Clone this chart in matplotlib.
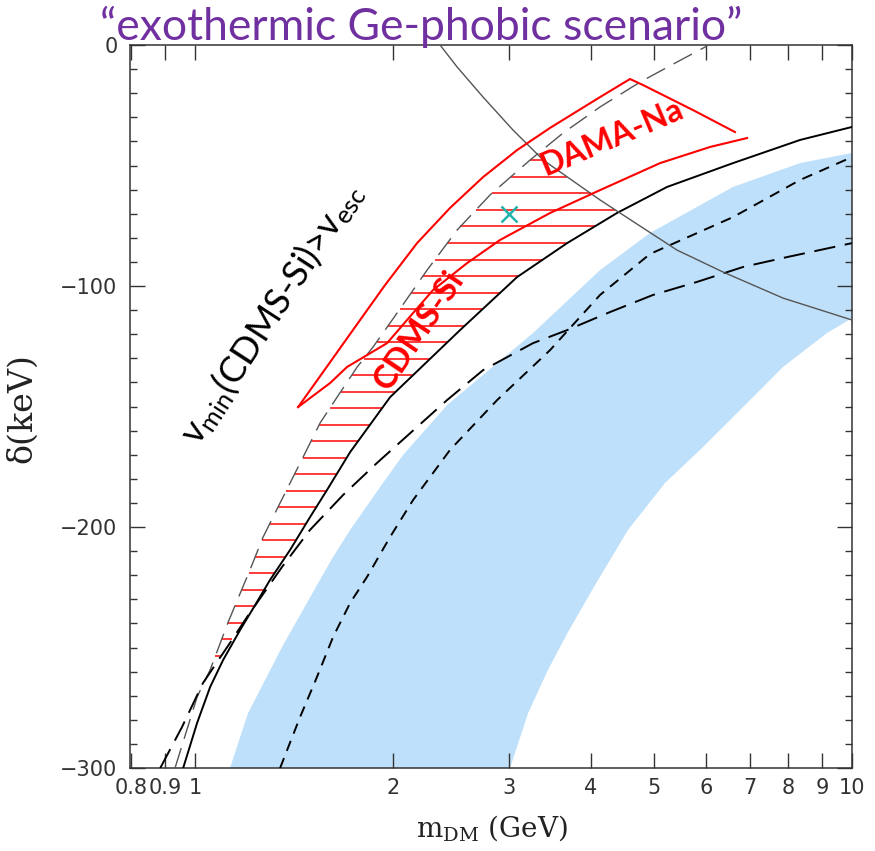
import numpy as np
import matplotlib.pyplot as plt
from matplotlib.ticker import FixedLocator, FixedFormatter, MultipleLocator, NullLocator

# light-blue allowed band: upper-left edge and lower-right edge
band_upper_m = [1.130, 1.204, 1.278, 1.361, 1.445, 1.533, 1.622, 1.722, 1.932, 2.073, 2.419, 3.269, 4.135,
                4.926, 6.59, 8.335, 10.0]
band_upper_d = [-300, -277.2, -263.5, -249.0, -236.5, -224.1, -212.4, -201.2, -181.7, -170.1, -149.4, -119.5,
                -93.4, -78.0, -58.9, -49.0, -44.8]
band_lower_m = [3.016, 3.213, 3.445, 3.695, 4.062, 4.561, 5.193, 5.871, 6.753, 7.852, 9.161, 10.0]
band_lower_d = [-300, -277.2, -259.3, -243.6, -224.1, -201.2, -181.7, -168.0, -151.5, -133.6, -119.5, -113.3]

# solid black limit
solid_m = [0.959, 1.007, 1.054, 1.103, 1.171, 1.234, 1.300, 1.395, 1.496, 1.588, 1.722, 1.981,
           2.531, 3.091, 3.684, 4.388, 5.229, 6.59, 8.335, 10.0]
solid_d = [-300, -281.3, -266.4, -255.2, -242.7, -232.4, -222.0, -209.5, -195.9, -184.6, -168.9, -146.1,
           -118.3, -96.3, -82.2, -69.7, -58.9, -49.0, -39.4, -34.0]

# grey long-dashed curve (upper edge of CDMS-Si region)
gdash_m = [0.932, 1.007, 1.054, 1.123, 1.212, 1.269, 1.347, 1.460, 1.550, 1.645, 1.765, 1.866, 2.030,
           2.255, 2.505, 2.812, 3.236, 3.633, 4.135, 4.756, 5.416, 6.017]
gdash_d = [-300, -270.5, -259.3, -239.4, -217.8, -204.2, -190.0, -171.0, -156.8, -146.1, -133.6, -125.3, -111.2,
           -93.4, -76.8, -62.2, -47.7, -36.5, -25.7, -15.4, -7.05, -0.4]

# black long-dashed curve
ldash_m = [0.885, 0.955, 1.028, 1.130, 1.200, 1.356, 1.496, 1.680, 1.892, 2.419, 2.744, 3.269, 3.684,
           4.282, 4.979, 5.808, 6.826, 7.963, 10.0]
ldash_d = [-300, -283.0, -264.7, -248.1, -237.3, -216.6, -201.2, -186.7, -173.4, -147.3, -134.9, -123.7, -118.3,
           -110.8, -103.7, -98.3, -92.1, -88.0, -82.2]

# black short-dashed curve
sdash_m = [1.347, 1.445, 1.533, 1.622, 1.722, 1.827, 1.981, 2.147, 2.444, 2.883, 3.470, 4.135, 4.926, 6.59, 8.335, 10.0]
sdash_d = [-300, -278.8, -262.2, -245.6, -231.5, -220.7, -204.1, -188.8, -168.0, -147.3, -126.6, -103.7, -86.7,
           -71.4, -56.0, -46.5]

# thin grey line, v_min(CDMS-Si) = v_esc
vesc_m = [2.360, 2.505, 2.744, 3.048, 3.387, 4.135, 5.416, 6.365, 7.852, 10.0]
vesc_d = [0.0, -9.1, -21.6, -35.3, -47.7, -64.3, -85.1, -94.2, -105.0, -114.1]

# DAMA-Na contour (red), upper and lower branches
dama_up_m = [1.435, 1.606, 1.783, 1.946, 2.177, 2.444, 2.744, 3.091, 3.470, 4.135, 4.593, 4.806, 5.728, 6.635]
dama_up_d = [-150.2, -131.5, -114.1, -99.6, -82.2, -67.6, -54.8, -43.6, -34.4, -21.6, -14.1, -16.6, -27.0, -36.1]
dama_lo_m = [1.435, 1.606, 1.703, 1.960, 2.102, 2.302, 2.594, 2.912, 3.470, 4.135, 5.103, 6.081, 6.922]
dama_lo_d = [-150.2, -140.2, -133.6, -123.7, -114.1, -101.7, -90.5, -80.9, -69.7, -60.2, -49.0, -42.3, -38.6]

best_fit = (3.0, -70.0)

xtick_vals = [0.8, 0.9, 1, 2, 3, 4, 5, 6, 7, 8, 9, 10]
xtick_text = ['0.8', '0.9', '1', '2', '3', '4', '5', '6', '7', '8', '9', '10']

fig = plt.figure(figsize=(8.75, 8.51), dpi=100)
ax = fig.add_axes([0.1486, 0.0975, 0.8251, 0.8496])
ax.set_xscale('log')
ax.set_xlim(0.796, 10)
ax.set_ylim(-300, 0)

# blue band
ax.fill(band_upper_m + band_lower_m[::-1], band_upper_d + band_lower_d[::-1],
        color='#BEE0FA', lw=0, zorder=1)

# red hatching between grey dashed edge and the first limit on the right
lg = np.log10
yh = np.arange(-47.9, -262, -6.85)
left = np.interp(yh, gdash_d, lg(gdash_m))
right = np.minimum.reduce([
    np.interp(yh, solid_d, lg(solid_m)),
    np.interp(yh, ldash_d, lg(ldash_m)),
    np.interp(yh, vesc_d[::-1], lg(vesc_m)[::-1]),
])
ok = right > left
ax.hlines(yh[ok], 10 ** left[ok], 10 ** right[ok], color='#FF2A2A', lw=1.3, zorder=2)

ax.plot(solid_m, solid_d, color='black', lw=1.4, zorder=3)
ax.plot(gdash_m, gdash_d, color='#555555', lw=1.0, dashes=(15, 7), zorder=3)
ax.plot(ldash_m, ldash_d, color='black', lw=1.4, dashes=(11, 5), zorder=3)
ax.plot(sdash_m, sdash_d, color='black', lw=1.4, dashes=(5.5, 4), zorder=3)
ax.plot(vesc_m, vesc_d, color='#555555', lw=1.0, zorder=3)

ax.plot(dama_up_m, dama_up_d, color='red', lw=1.5, zorder=4)
ax.plot(dama_lo_m, dama_lo_d, color='red', lw=1.5, zorder=4)

ax.plot(*best_fit, marker='x', color='#20B2AA', markersize=12, mew=1.8, zorder=5)

ax.text(4.31, -38.2, 'DAMA-Na', color='red', fontsize=23, fontweight='bold', family='Lato',
        rotation=23, ha='center', va='center', rotation_mode='anchor', zorder=6)
ax.text(2.19, -118.5, 'CDMS-Si', color='red', fontsize=24, fontweight='bold', family='Lato',
        rotation=56, ha='center', va='center', rotation_mode='anchor', zorder=6)
ax.text(1.31, -111.0, r'$\mathregular{v_{min}}$(CDMS-Si)>$\mathregular{v_{esc}}$', color='black',
        fontsize=26, family='Lato', rotation=57, ha='center', va='center', rotation_mode='anchor', zorder=6)

# axes styling
ax.xaxis.set_major_locator(FixedLocator(xtick_vals))
ax.xaxis.set_major_formatter(FixedFormatter(xtick_text))
ax.xaxis.set_minor_locator(NullLocator())
ax.yaxis.set_major_locator(MultipleLocator(100))
ax.yaxis.set_minor_locator(MultipleLocator(10))
ax.tick_params(which='both', direction='in', top=True, right=True, colors='#333333', width=1.0)
ax.tick_params(which='major', length=11, labelsize=15)
ax.tick_params(which='minor', length=5)
ax.tick_params(axis='y', pad=9)
ax.tick_params(axis='x', pad=7)
for s in ax.spines.values():
    s.set_color('#333333')
    s.set_linewidth(1.1)
for lab in ax.get_xticklabels() + ax.get_yticklabels():
    lab.set_color('#333333')

fig.text(492 / 875, 1 - 828 / 851, r'$\mathregular{m_{DM}}$ (GeV)', family='DejaVu Serif',
         fontsize=20, color='#222222', ha='center', va='center')
fig.text(22 / 875, 1 - 408 / 851, '\u03b4(keV)', family='DejaVu Serif',
         fontsize=24, color='#222222', ha='center', va='center', rotation=90)

fig.text(100 / 875, 1 - 40 / 851, '\u201cexothermic Ge-phobic scenario\u201d', family='Lato',
         fontsize=32, color='#7030A0', ha='left', va='baseline')

fig.savefig('out.png', dpi=100)
